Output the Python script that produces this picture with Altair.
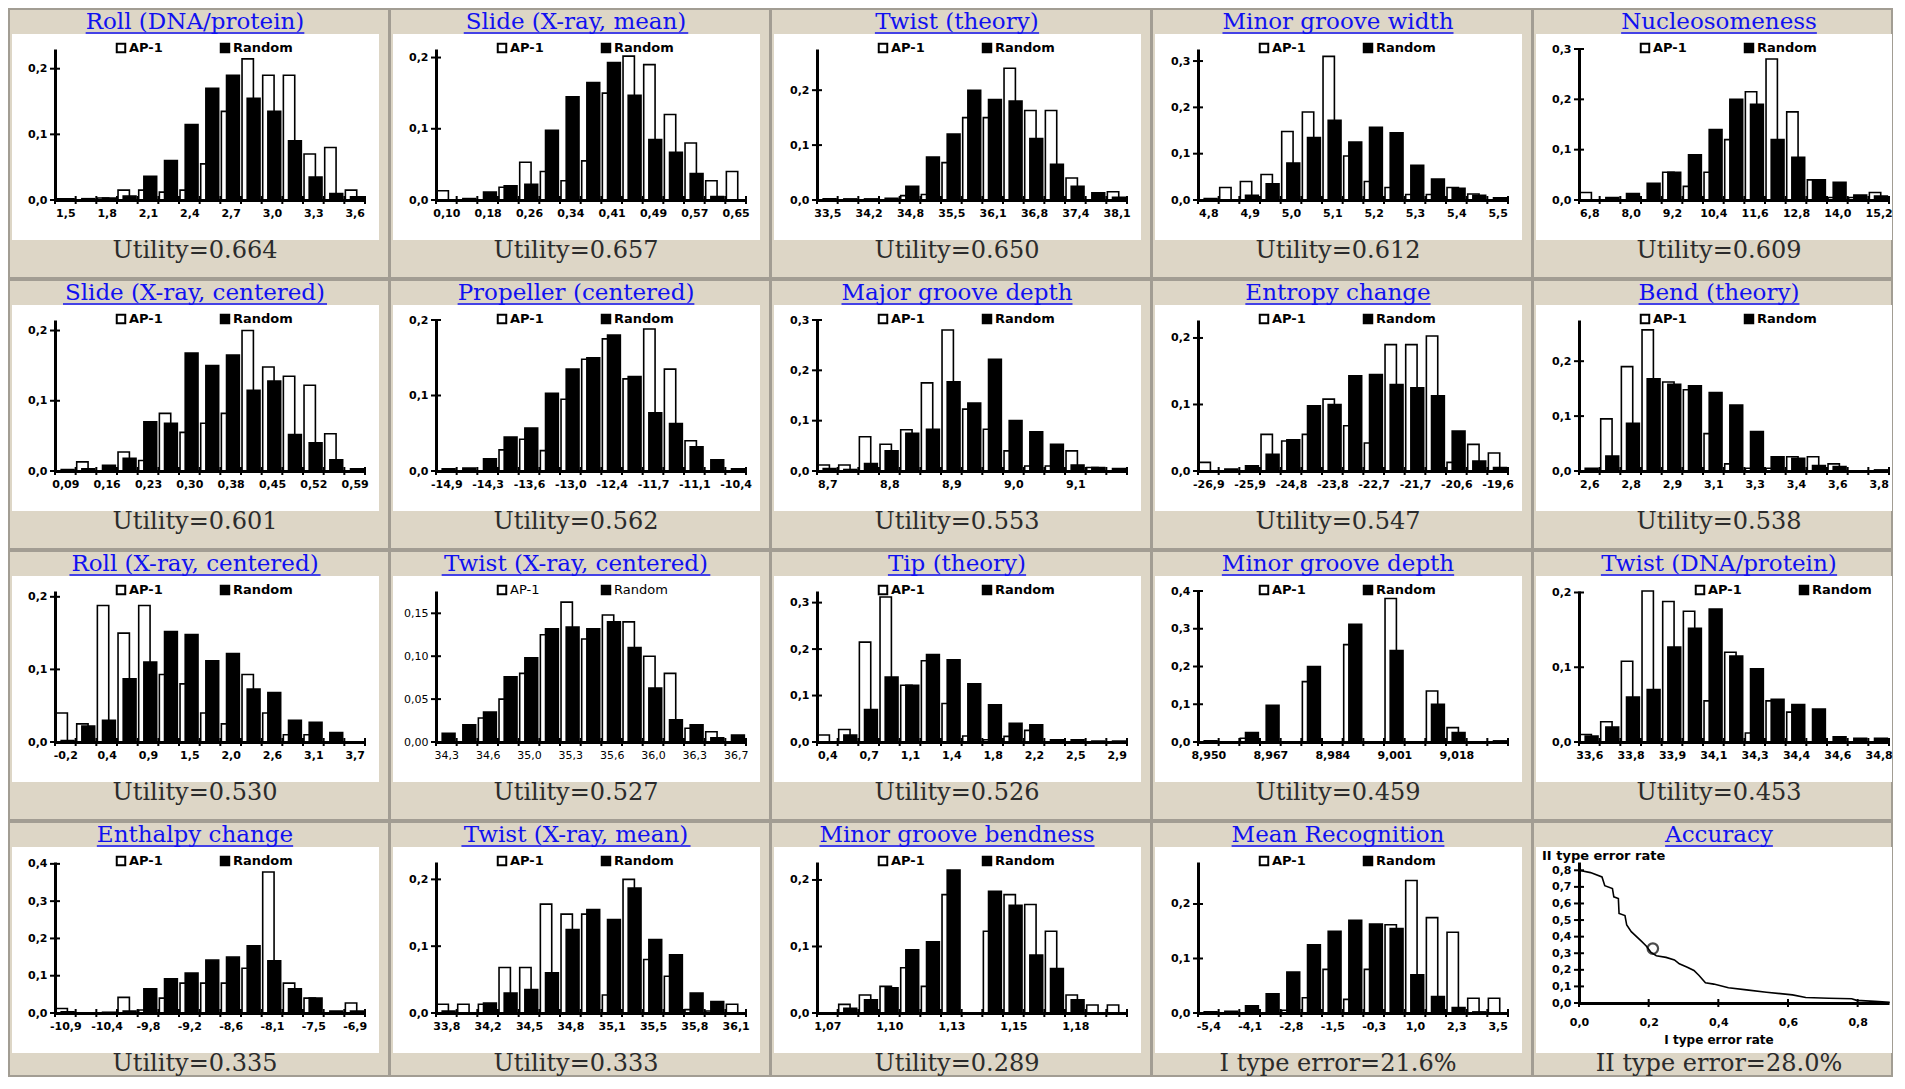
import json
import altair as alt
import pandas as pd

# ------------------------------------------------------------------ data
ROLL_DNA_LABELS = ["1,5", "1,8", "2,1", "2,4", "2,7", "3,0", "3,3", "3,6"]
ROLL_DNA_AP1 = [0.002, 0.0, 0.003, 0.015, 0.015, 0.012, 0.015, 0.055, 0.135, 0.215, 0.19, 0.19, 0.07, 0.08, 0.015]
ROLL_DNA_RANDOM = [0.002, 0.002, 0.003, 0.006, 0.036, 0.06, 0.115, 0.17, 0.19, 0.155, 0.135, 0.09, 0.035, 0.01, 0.005]

SLIDE_MEAN_LABELS = ["0,10", "0,18", "0,26", "0,34", "0,41", "0,49", "0,57", "0,65"]
SLIDE_MEAN_AP1 = [0.013, 0.0, 0.0, 0.018, 0.053, 0.04, 0.027, 0.055, 0.15, 0.202, 0.19, 0.12, 0.08, 0.027, 0.04]
SLIDE_MEAN_RANDOM = [0.0, 0.002, 0.011, 0.02, 0.022, 0.098, 0.145, 0.165, 0.193, 0.147, 0.085, 0.067, 0.037, 0.005, 0.0]

TWIST_TH_LABELS = ["33,5", "34,2", "34,8", "35,5", "36,1", "36,8", "37,4", "38,1"]
TWIST_TH_AP1 = [0.0, 0.0, 0.0, 0.0, 0.008, 0.01, 0.068, 0.15, 0.15, 0.24, 0.163, 0.163, 0.04, 0.0, 0.015]
TWIST_TH_RANDOM = [0.002, 0.002, 0.002, 0.003, 0.025, 0.078, 0.12, 0.2, 0.183, 0.18, 0.112, 0.065, 0.025, 0.013, 0.005]

MGW_LABELS = ["4,8", "4,9", "5,0", "5,1", "5,2", "5,3", "5,4", "5,5"]
MGW_AP1 = [0.0, 0.027, 0.04, 0.055, 0.148, 0.19, 0.31, 0.095, 0.04, 0.027, 0.012, 0.012, 0.027, 0.013, 0.0]
MGW_RANDOM = [0.003, 0.0, 0.01, 0.035, 0.08, 0.135, 0.172, 0.125, 0.157, 0.145, 0.075, 0.045, 0.025, 0.01, 0.005]

NUCL_LABELS = ["6,8", "8,0", "9,2", "10,4", "11,6", "12,8", "14,0", "15,2"]
NUCL_AP1 = [0.015, 0.0, 0.0, 0.0, 0.055, 0.027, 0.055, 0.12, 0.215, 0.28, 0.175, 0.04, 0.005, 0.005, 0.015]
NUCL_RANDOM = [0.0, 0.005, 0.013, 0.033, 0.055, 0.09, 0.14, 0.2, 0.19, 0.12, 0.085, 0.04, 0.035, 0.01, 0.008]

SLIDE_C_LABELS = ["0,09", "0,16", "0,23", "0,30", "0,38", "0,45", "0,52", "0,59"]
SLIDE_C_AP1 = [0.0, 0.013, 0.0, 0.027, 0.015, 0.082, 0.055, 0.068, 0.082, 0.2, 0.148, 0.135, 0.122, 0.053, 0.0]
SLIDE_C_RANDOM = [0.002, 0.003, 0.008, 0.018, 0.07, 0.068, 0.168, 0.15, 0.165, 0.115, 0.128, 0.052, 0.04, 0.016, 0.003]

PROP_LABELS = ["-14,9", "-14,3", "-13,6", "-13,0", "-12,4", "-11,7", "-11,1", "-10,4"]
PROP_AP1 = [0.0, 0.0, 0.0, 0.028, 0.042, 0.027, 0.095, 0.148, 0.175, 0.122, 0.188, 0.135, 0.04, 0.0, 0.0]
PROP_RANDOM = [0.003, 0.004, 0.016, 0.045, 0.057, 0.103, 0.135, 0.15, 0.18, 0.125, 0.077, 0.063, 0.032, 0.015, 0.003]

MAJD_LABELS = ["8,7", "8,8", "8,9", "9,0", "9,1"]
MAJD_AP1 = [0.012, 0.012, 0.068, 0.053, 0.082, 0.175, 0.28, 0.123, 0.083, 0.04, 0.01, 0.01, 0.04, 0.007, 0.0]
MAJD_RANDOM = [0.005, 0.003, 0.015, 0.04, 0.075, 0.083, 0.177, 0.135, 0.222, 0.1, 0.078, 0.053, 0.012, 0.007, 0.005]

ENTR_LABELS = ["-26,9", "-25,9", "-24,8", "-23,8", "-22,7", "-21,7", "-20,6", "-19,6"]
ENTR_AP1 = [0.013, 0.0, 0.0, 0.055, 0.045, 0.055, 0.108, 0.068, 0.042, 0.19, 0.19, 0.203, 0.013, 0.04, 0.027]
ENTR_RANDOM = [0.0, 0.003, 0.008, 0.025, 0.047, 0.098, 0.1, 0.143, 0.145, 0.13, 0.125, 0.113, 0.06, 0.015, 0.005]

BEND_LABELS = ["2,6", "2,8", "2,9", "3,1", "3,3", "3,4", "3,6", "3,8"]
BEND_AP1 = [0.0, 0.095, 0.19, 0.257, 0.162, 0.148, 0.068, 0.013, 0.005, 0.005, 0.026, 0.026, 0.013, 0.0, 0.0]
BEND_RANDOM = [0.005, 0.027, 0.087, 0.168, 0.158, 0.155, 0.143, 0.12, 0.072, 0.026, 0.023, 0.01, 0.008, 0.0, 0.002]

ROLL_XC_LABELS = ["-0,2", "0,4", "0,9", "1,5", "2,0", "2,6", "3,1", "3,7"]
ROLL_XC_AP1 = [0.04, 0.025, 0.188, 0.15, 0.188, 0.093, 0.08, 0.04, 0.025, 0.093, 0.04, 0.01, 0.01, 0.0, 0.0]
ROLL_XC_RANDOM = [0.002, 0.022, 0.03, 0.087, 0.11, 0.152, 0.148, 0.112, 0.122, 0.073, 0.068, 0.03, 0.027, 0.013, 0.0]

TWIST_XC_LABELS = ["34,3", "34,6", "35,0", "35,3", "35,6", "36,0", "36,3", "36,7"]
TWIST_XC_AP1 = [0.0, 0.0, 0.028, 0.05, 0.08, 0.125, 0.163, 0.12, 0.148, 0.14, 0.1, 0.08, 0.016, 0.012, 0.0]
TWIST_XC_RANDOM = [0.01, 0.02, 0.035, 0.076, 0.098, 0.132, 0.134, 0.132, 0.14, 0.11, 0.063, 0.026, 0.02, 0.005, 0.008]

TIP_LABELS = ["0,4", "0,7", "1,1", "1,4", "1,8", "2,2", "2,5", "2,9"]
TIP_AP1 = [0.015, 0.027, 0.215, 0.312, 0.122, 0.175, 0.083, 0.013, 0.005, 0.012, 0.025, 0.0, 0.0, 0.0, 0.0]
TIP_RANDOM = [0.0, 0.015, 0.07, 0.14, 0.122, 0.188, 0.177, 0.125, 0.08, 0.04, 0.037, 0.005, 0.005, 0.002, 0.002]

MIND_LABELS = ["8,950", "8,967", "8,984", "9,001", "9,018"]
MIND_AP1 = [0.0, 0.0, 0.01, 0.0, 0.0, 0.16, 0.0, 0.258, 0.0, 0.38, 0.0, 0.135, 0.038, 0.0, 0.0]
MIND_RANDOM = [0.003, 0.0, 0.025, 0.097, 0.0, 0.2, 0.0, 0.312, 0.0, 0.242, 0.0, 0.1, 0.025, 0.0, 0.003]

TWIST_DNA_LABELS = ["33,6", "33,8", "33,9", "34,1", "34,3", "34,4", "34,6", "34,8"]
TWIST_DNA_AP1 = [0.01, 0.027, 0.108, 0.202, 0.188, 0.175, 0.055, 0.12, 0.012, 0.055, 0.04, 0.0, 0.0, 0.0, 0.0]
TWIST_DNA_RANDOM = [0.008, 0.02, 0.06, 0.07, 0.127, 0.152, 0.178, 0.115, 0.098, 0.057, 0.05, 0.044, 0.007, 0.005, 0.005]

ENTH_LABELS = ["-10,9", "-10,4", "-9,8", "-9,2", "-8,6", "-8,1", "-7,5", "-6,9"]
ENTH_AP1 = [0.012, 0.0, 0.0, 0.042, 0.008, 0.04, 0.08, 0.08, 0.08, 0.12, 0.378, 0.08, 0.04, 0.0, 0.027]
ENTH_RANDOM = [0.003, 0.0, 0.002, 0.005, 0.065, 0.092, 0.107, 0.142, 0.15, 0.18, 0.14, 0.065, 0.04, 0.005, 0.005]

TWIST_XM_LABELS = ["33,8", "34,2", "34,5", "34,8", "35,1", "35,5", "35,8", "36,1"]
TWIST_XM_AP1 = [0.013, 0.013, 0.013, 0.068, 0.068, 0.163, 0.148, 0.148, 0.027, 0.2, 0.08, 0.055, 0.005, 0.003, 0.013]
TWIST_XM_RANDOM = [0.003, 0.0, 0.015, 0.03, 0.035, 0.06, 0.125, 0.155, 0.14, 0.187, 0.11, 0.087, 0.03, 0.017, 0.0]

MGB_LABELS = ["1,07", "1,10", "1,13", "1,15", "1,18"]
MGB_AP1 = [0.0, 0.013, 0.027, 0.04, 0.068, 0.04, 0.178, 0.0, 0.123, 0.178, 0.163, 0.123, 0.027, 0.012, 0.012]
MGB_RANDOM = [0.0, 0.007, 0.02, 0.038, 0.095, 0.107, 0.215, 0.0, 0.183, 0.162, 0.087, 0.067, 0.02, 0.0, 0.0]

MREC_LABELS = ["-5,4", "-4,1", "-2,8", "-1,5", "-0,3", "1,0", "2,3", "3,5"]
MREC_AP1 = [0.0, 0.0, 0.0, 0.0, 0.005, 0.028, 0.08, 0.025, 0.08, 0.162, 0.243, 0.175, 0.148, 0.027, 0.027]
MREC_RANDOM = [0.002, 0.003, 0.013, 0.035, 0.075, 0.125, 0.15, 0.17, 0.163, 0.155, 0.07, 0.03, 0.01, 0.002, 0.0]

ACC_X = [0.0, 0.033, 0.066, 0.074, 0.096, 0.1, 0.113, 0.115, 0.132, 0.137, 0.15, 0.179, 0.193, 0.207,
         0.222, 0.25, 0.274, 0.288, 0.311, 0.33, 0.344, 0.363, 0.387, 0.429, 0.481, 0.538, 0.613,
         0.651, 0.717, 0.783, 0.797, 0.849, 0.892]
ACC_Y = [0.8, 0.786, 0.76, 0.707, 0.69, 0.64, 0.63, 0.54, 0.527, 0.47, 0.43, 0.373, 0.344, 0.305,
         0.285, 0.275, 0.26, 0.236, 0.216, 0.196, 0.167, 0.122, 0.114, 0.092, 0.079, 0.065, 0.049,
         0.033, 0.029, 0.026, 0.016, 0.01, 0.004]
ACC_POINT_X = [0.212]
ACC_POINT_Y = [0.328]
ACC_XTICKS = [0.0, 0.2, 0.4, 0.6, 0.8]
ACC_YTICKS = [0.0, 0.1, 0.2, 0.3, 0.4, 0.5, 0.6, 0.7, 0.8]

PANELS = [
    dict(title="Roll (DNA/protein)", labels=ROLL_DNA_LABELS, ap1=ROLL_DNA_AP1, rnd=ROLL_DNA_RANDOM, ymax=0.23, yticks=[0, 0.1, 0.2], footer="Utility=0.664"),
    dict(title="Slide (X-ray, mean)", labels=SLIDE_MEAN_LABELS, ap1=SLIDE_MEAN_AP1, rnd=SLIDE_MEAN_RANDOM, ymax=0.212, yticks=[0, 0.1, 0.2], footer="Utility=0.657"),
    dict(title="Twist (theory)", labels=TWIST_TH_LABELS, ap1=TWIST_TH_AP1, rnd=TWIST_TH_RANDOM, ymax=0.275, yticks=[0, 0.1, 0.2], footer="Utility=0.650"),
    dict(title="Minor groove width", labels=MGW_LABELS, ap1=MGW_AP1, rnd=MGW_RANDOM, ymax=0.326, yticks=[0, 0.1, 0.2, 0.3], footer="Utility=0.612"),
    dict(title="Nucleosomeness", labels=NUCL_LABELS, ap1=NUCL_AP1, rnd=NUCL_RANDOM, ymax=0.3, yticks=[0, 0.1, 0.2, 0.3], footer="Utility=0.609"),
    dict(title="Slide (X-ray, centered)", labels=SLIDE_C_LABELS, ap1=SLIDE_C_AP1, rnd=SLIDE_C_RANDOM, ymax=0.215, yticks=[0, 0.1, 0.2], footer="Utility=0.601"),
    dict(title="Propeller (centered)", labels=PROP_LABELS, ap1=PROP_AP1, rnd=PROP_RANDOM, ymax=0.2, yticks=[0, 0.1, 0.2], footer="Utility=0.562"),
    dict(title="Major groove depth", labels=MAJD_LABELS, ap1=MAJD_AP1, rnd=MAJD_RANDOM, ymax=0.3, yticks=[0, 0.1, 0.2, 0.3], footer="Utility=0.553"),
    dict(title="Entropy change", labels=ENTR_LABELS, ap1=ENTR_AP1, rnd=ENTR_RANDOM, ymax=0.227, yticks=[0, 0.1, 0.2], footer="Utility=0.547"),
    dict(title="Bend (theory)", labels=BEND_LABELS, ap1=BEND_AP1, rnd=BEND_RANDOM, ymax=0.275, yticks=[0, 0.1, 0.2], footer="Utility=0.538"),
    dict(title="Roll (X-ray, centered)", labels=ROLL_XC_LABELS, ap1=ROLL_XC_AP1, rnd=ROLL_XC_RANDOM, ymax=0.208, yticks=[0, 0.1, 0.2], footer="Utility=0.530"),
    dict(title="Twist (X-ray, centered)", labels=TWIST_XC_LABELS, ap1=TWIST_XC_AP1, rnd=TWIST_XC_RANDOM, ymax=0.176, yticks=[0, 0.05, 0.1, 0.15], fmt=".2f", light=True, footer="Utility=0.527"),
    dict(title="Tip (theory)", labels=TIP_LABELS, ap1=TIP_AP1, rnd=TIP_RANDOM, ymax=0.325, yticks=[0, 0.1, 0.2, 0.3], footer="Utility=0.526"),
    dict(title="Minor groove depth", labels=MIND_LABELS, ap1=MIND_AP1, rnd=MIND_RANDOM, ymax=0.4, yticks=[0, 0.1, 0.2, 0.3, 0.4], footer="Utility=0.459"),
    dict(title="Twist (DNA/protein)", labels=TWIST_DNA_LABELS, ap1=TWIST_DNA_AP1, rnd=TWIST_DNA_RANDOM, ymax=0.202, yticks=[0, 0.1, 0.2], legend_dx=55, footer="Utility=0.453"),
    dict(title="Enthalpy change", labels=ENTH_LABELS, ap1=ENTH_AP1, rnd=ENTH_RANDOM, ymax=0.405, yticks=[0, 0.1, 0.2, 0.3, 0.4], footer="Utility=0.335"),
    dict(title="Twist (X-ray, mean)", labels=TWIST_XM_LABELS, ap1=TWIST_XM_AP1, rnd=TWIST_XM_RANDOM, ymax=0.226, yticks=[0, 0.1, 0.2], footer="Utility=0.333"),
    dict(title="Minor groove bendness", labels=MGB_LABELS, ap1=MGB_AP1, rnd=MGB_RANDOM, ymax=0.227, yticks=[0, 0.1, 0.2], footer="Utility=0.289"),
    dict(title="Mean Recognition", labels=MREC_LABELS, ap1=MREC_AP1, rnd=MREC_RANDOM, ymax=0.277, yticks=[0, 0.1, 0.2], footer="I type error=21.6%"),
]
ACC_TITLE = "Accuracy"
ACC_FOOTER = "II type error=28.0%"

# ------------------------------------------------------------------ layout / style
W, H = 310, 151
H_ACC = 141
PITCH_X, PITCH_Y = 381, 271
BG = "#ddd6c6"
BLUE = "#1010f0"
SANS = "DejaVu Sans"
SERIF = "DejaVu Serif"
TITLE_SIZE = 23
FOOT_SIZE = 24
TICK_SIZE = 11
CX = 140

CW = {' ': .318, '(': .39, ')': .39, '/': .337, ',': .318, '-': .338, '.': .318,
      'A': .722, 'B': .735, 'C': .765, 'D': .802, 'E': .73, 'F': .694, 'G': .799, 'H': .872,
      'I': .395, 'J': .401, 'K': .747, 'L': .664, 'M': 1.024, 'N': .875, 'O': .82, 'P': .673,
      'Q': .82, 'R': .753, 'S': .685, 'T': .667, 'U': .843, 'V': .722, 'W': 1.028, 'X': .712,
      'Y': .66, 'Z': .695, 'a': .596, 'b': .64, 'c': .56, 'd': .64, 'e': .592, 'f': .37,
      'g': .64, 'h': .644, 'i': .32, 'j': .31, 'k': .606, 'l': .32, 'm': .948, 'n': .644,
      'o': .602, 'p': .64, 'q': .64, 'r': .478, 's': .513, 't': .402, 'u': .644, 'v': .565,
      'w': .856, 'x': .564, 'y': .565, 'z': .527}


def text_width(s, size):
    return sum(CW.get(c, 0.6) for c in s) * size


def comma_expr(fmt):
    return f"replace(format(datum.value, '{fmt}'), '.', ',')"


def one(**kw):
    return pd.DataFrame({k: [v] for k, v in kw.items()} or {"k": [0]})


def background_layers(col, row):
    right = W + 3 if col == 4 else W + 24
    white_r = W + 3 if col == 4 else W + 14
    bottom = H + 63 if row == 3 else H + 78
    box = alt.Chart(one()).mark_rect(fill=BG, stroke="#a29d93", strokeWidth=2).encode(
        x=alt.value(-46), x2=alt.value(right), y=alt.value(-40), y2=alt.value(bottom))
    white = alt.Chart(one()).mark_rect(fill="white", strokeWidth=0).encode(
        x=alt.value(-43), x2=alt.value(white_r), y=alt.value(-15), y2=alt.value(H + 40))
    return [box, white]


def text_layers(title, footer):
    w = text_width(title, TITLE_SIZE)
    t = alt.Chart(one(t=title)).mark_text(font=SERIF, fontSize=TITLE_SIZE, color=BLUE,
                                          align="center", baseline="alphabetic").encode(
        text="t:N", x=alt.value(CX), y=alt.value(-20))
    ul = alt.Chart(one()).mark_rule(color=BLUE, strokeWidth=1.5).encode(
        x=alt.value(CX - w / 2), x2=alt.value(CX + w / 2), y=alt.value(-16))
    f = alt.Chart(one(t=footer)).mark_text(font=SERIF, fontSize=FOOT_SIZE, color="#2b2b2b",
                                           align="center", baseline="middle").encode(
        text="t:N", x=alt.value(CX), y=alt.value(H + 51))
    return [t, ul, f]


def legend_layers(dx=0, light=False):
    weight = "normal" if light else "bold"
    layers = []
    for name, fill, x0 in (("AP-1", "white", 66), ("Random", "black", 170)):
        sq = alt.Chart(one()).mark_square(size=72, fill=fill, stroke="black", strokeWidth=2,
                                          opacity=1).encode(
            x=alt.value(x0 + dx), y=alt.value(-1))
        tx = alt.Chart(one(t=name)).mark_text(font=SANS, fontSize=13, fontWeight=weight,
                                              color="black", align="left", baseline="middle").encode(
            text="t:N", x=alt.value(x0 + dx + 8), y=alt.value(-1))
        layers += [sq, tx]
    return layers


def hist_panel(p, col, row):
    n = len(p["ap1"])
    labels = p["labels"]
    step = 2 if len(labels) == 8 else 3
    fmt = p.get("fmt", ".1f")
    weight = "normal" if p.get("light") else "bold"
    xs = alt.Scale(domain=[0, n], nice=False, zero=False)
    ys = alt.Scale(domain=[0, p["ymax"]], nice=False, zero=True)
    lab_vals = [0.5 + step * k for k in range(len(labels))]
    xaxis = alt.Axis(values=lab_vals, labelExpr=f"{json.dumps(labels)}[round((datum.value - 0.5) / {step})]",
                     title=None, ticks=False, tickSize=0, grid=False, domainWidth=3, domainColor="black",
                     labelFont=SANS, labelFontWeight=weight, labelFontSize=TICK_SIZE, labelColor="black",
                     labelPadding=7, labelOverlap=False, labelFlush=False, labelAngle=0, zindex=1)
    yaxis = alt.Axis(values=p["yticks"], labelExpr=comma_expr(fmt), title=None, ticks=False, tickSize=0,
                     grid=False, domainWidth=3, domainColor="black", labelFont=SANS,
                     labelFontWeight=weight, labelFontSize=TICK_SIZE, labelColor="black", labelPadding=8,
                     labelOverlap=False, labelFlush=False, zindex=1)

    def bars(values, fill, a, b):
        df = pd.DataFrame({"i": list(range(n)), "v": values})
        return alt.Chart(df).transform_calculate(
            x0=f"datum.i + {a}", x1=f"datum.i + {b}"
        ).mark_rect(fill=fill, stroke="black", strokeWidth=1.6).encode(
            x=alt.X("x0:Q", scale=xs, axis=xaxis), x2="x1:Q",
            y=alt.Y("v:Q", scale=ys, axis=yaxis), y2=alt.datum(0))

    white = bars(p["ap1"], "white", 0.05, 0.6)
    black = bars(p["rnd"], "black", 0.3, 0.92)
    xt = alt.Chart(pd.DataFrame({"b": list(range(n + 1))})).mark_rule(color="black", strokeWidth=2).encode(
        x=alt.X("b:Q", scale=xs, axis=xaxis), y=alt.value(H - 4), y2=alt.value(H + 4))
    yt = alt.Chart(pd.DataFrame({"t": p["yticks"]})).mark_rule(color="black", strokeWidth=2).encode(
        y=alt.Y("t:Q", scale=ys, axis=yaxis), x=alt.value(-5), x2=alt.value(5))
    layers = background_layers(col, row) + [white, black, xt, yt] + \
        legend_layers(p.get("legend_dx", 0), p.get("light", False)) + text_layers(p["title"], p["footer"])
    return alt.layer(*layers).properties(width=W, height=H)


def accuracy_panel(col, row):
    xs = alt.Scale(domain=[0, 0.89], nice=False, zero=False)
    ys = alt.Scale(domain=[0, 0.85], nice=False, zero=True)
    xaxis = alt.Axis(values=ACC_XTICKS, labelExpr=comma_expr(".1f"), title=None, ticks=False, tickSize=0,
                     grid=False, domainWidth=3, domainColor="black", labelFont=SANS, labelFontWeight="bold",
                     labelFontSize=TICK_SIZE, labelColor="black", labelPadding=13, labelOverlap=False,
                     labelFlush=False, zindex=1)
    yaxis = alt.Axis(values=ACC_YTICKS, labelExpr=comma_expr(".1f"), title=None, ticks=False, tickSize=0,
                     grid=False, domainWidth=3, domainColor="black", labelFont=SANS, labelFontWeight="bold",
                     labelFontSize=TICK_SIZE, labelColor="black", labelPadding=8, labelOverlap=False,
                     labelFlush=False, zindex=1)
    df = pd.DataFrame({"k": list(range(len(ACC_X))), "x": ACC_X, "y": ACC_Y})
    line = alt.Chart(df).mark_line(color="black", strokeWidth=1.6).encode(
        x=alt.X("x:Q", scale=xs, axis=xaxis), y=alt.Y("y:Q", scale=ys, axis=yaxis), order="k:Q")
    pt = alt.Chart(pd.DataFrame({"x": ACC_POINT_X, "y": ACC_POINT_Y})).mark_point(
        shape="circle", filled=False, size=110, color="black", strokeWidth=2.2).encode(
        x=alt.X("x:Q", scale=xs, axis=xaxis), y=alt.Y("y:Q", scale=ys, axis=yaxis))
    xt = alt.Chart(pd.DataFrame({"b": ACC_XTICKS})).mark_rule(color="black", strokeWidth=2).encode(
        x=alt.X("b:Q", scale=xs, axis=xaxis), y=alt.value(H_ACC - 4), y2=alt.value(H_ACC + 4))
    yt = alt.Chart(pd.DataFrame({"t": ACC_YTICKS})).mark_rule(color="black", strokeWidth=2).encode(
        y=alt.Y("t:Q", scale=ys, axis=yaxis), x=alt.value(-5), x2=alt.value(5))
    ytitle = alt.Chart(one(t="II type error rate")).mark_text(
        font=SANS, fontSize=13, fontWeight="bold", color="black", align="left", baseline="middle").encode(
        text="t:N", x=alt.value(-37), y=alt.value(-6))
    xtitle = alt.Chart(one(t="I type error rate")).mark_text(
        font=SANS, fontSize=12, fontWeight="bold", color="black", align="center", baseline="middle").encode(
        text="t:N", x=alt.value(CX), y=alt.value(H_ACC + 37))
    layers = background_layers(col, row) + [line, pt, xt, yt, ytitle, xtitle] + text_layers(ACC_TITLE, ACC_FOOTER)
    return alt.layer(*layers).properties(width=W, height=H_ACC)


charts = []
for idx, p in enumerate(PANELS):
    charts.append(hist_panel(p, idx % 5, idx // 5))
charts.append(accuracy_panel(4, 3))

chart = alt.concat(
    *charts, columns=5, bounds="flush",
    spacing={"row": PITCH_Y - H, "column": PITCH_X - W},
).resolve_scale(x="independent", y="independent").properties(
    padding=0, background=BG
).configure_view(stroke=None, fill=None)

chart.save("out.html", embed_options={"renderer": "svg", "actions": False})
